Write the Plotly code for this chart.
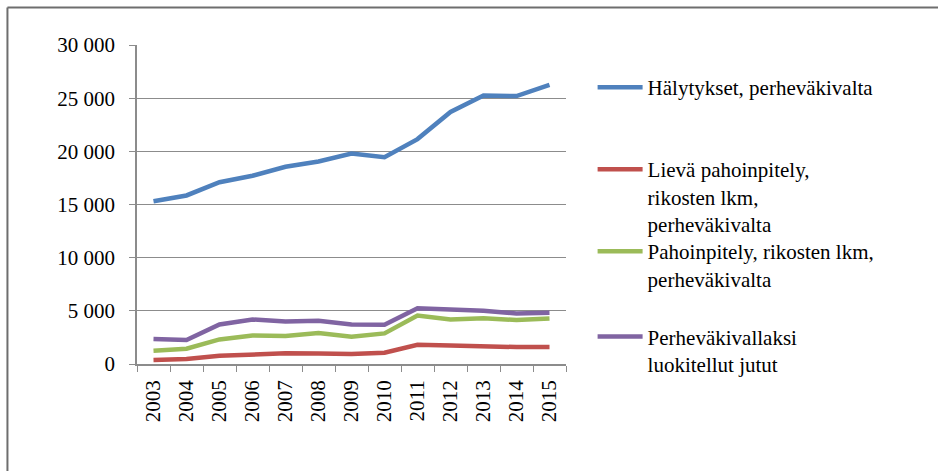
import plotly.graph_objects as go

# Values
years = ['2003', '2004', '2005', '2006', '2007', '2008', '2009',
         '2010', '2011', '2012', '2013', '2014', '2015']

halytykset = [15300, 15850, 17100, 17700, 18550, 19050, 19800,
              19450, 21150, 23700, 25250, 25200, 26250]
lieva_pahoinpitely = [380, 470, 780, 880, 1000, 980, 940,
                      1060, 1810, 1750, 1660, 1590, 1590]
pahoinpitely = [1250, 1440, 2310, 2690, 2630, 2910, 2560,
                2880, 4560, 4190, 4310, 4130, 4280]
luokitellut = [2340, 2250, 3720, 4190, 4000, 4060, 3720,
               3690, 5250, 5130, 5000, 4750, 4810]

y_ticks = [0, 5000, 10000, 15000, 20000, 25000, 30000]

names = [
    'Hälytykset, perheväkivalta',
    'Lievä pahoinpitely,<br>rikosten lkm,<br>perheväkivalta',
    'Pahoinpitely, rikosten lkm,<br>perheväkivalta',
    'Perheväkivallaksi<br>luokitellut jutut',
]
colors = ['#4F81BD', '#C0504D', '#9BBB59', '#8064A2']
series = [halytykset, lieva_pahoinpitely, pahoinpitely, luokitellut]

FONT = 'Liberation Serif'

fig = go.Figure()
legend_ids = ['legend', 'legend2', 'legend3', 'legend4']
for name, vals, col, leg in zip(names, series, colors, legend_ids):
    fig.add_trace(go.Scatter(
        x=years, y=vals, name=name, mode='lines',
        line=dict(color=col, width=4.5),
        legend=leg,
    ))

# one legend box per entry, placed like the Excel legend
legend_y = [0.931, 0.674, 0.417, 0.149]
legend_common = dict(
    x=1.062, xanchor='left', yanchor='top',
    font=dict(family=FONT, size=21, color='#000000'),
    bgcolor='rgba(0,0,0,0)', borderwidth=0,
    itemwidth=45, valign='top', tracegroupgap=0,
)
fig.update_layout(**{
    leg: dict(y=yy, **legend_common) for leg, yy in zip(legend_ids, legend_y)
})

fig.update_layout(
    width=938, height=471,
    margin=dict(l=137, r=372, t=45, b=107, autoexpand=False),
    paper_bgcolor='white', plot_bgcolor='white',
    separators=', ',
    font=dict(family=FONT, size=21, color='#000000'),
    showlegend=True,
)

fig.update_yaxes(
    range=[0, 30000], tickvals=y_ticks, tickformat=',d',
    showgrid=True, gridcolor='#8C8C8C', gridwidth=1,
    showline=True, linecolor='#8C8C8C', linewidth=1.5,
    ticks='outside', ticklen=6, tickcolor='#8C8C8C',
    ticklabelstandoff=10, zeroline=False, automargin=False,
)
fig.update_xaxes(
    type='category', tickangle=-90, tickson='boundaries',
    showgrid=False, showline=True, linecolor='#8C8C8C', linewidth=1.5,
    ticks='outside', ticklen=6, tickcolor='#8C8C8C',
    ticklabelstandoff=6,
    range=[-0.5, len(years) - 0.5], automargin=False,
)

# outer frame of the chart area (only top and left edges are visible)
fig.add_shape(type='line', xref='paper', yref='paper',
              x0=-0.302, x1=1.9, y0=1.1176, y1=1.1176,
              line=dict(color='#6E6E6E', width=2))
fig.add_shape(type='line', xref='paper', yref='paper',
              x0=-0.302, x1=-0.302, y0=1.1176, y1=-0.4,
              line=dict(color='#6E6E6E', width=2))

fig.write_html('out.html', config={'displayModeBar': False},
               post_script="document.body.style.margin='0';")
